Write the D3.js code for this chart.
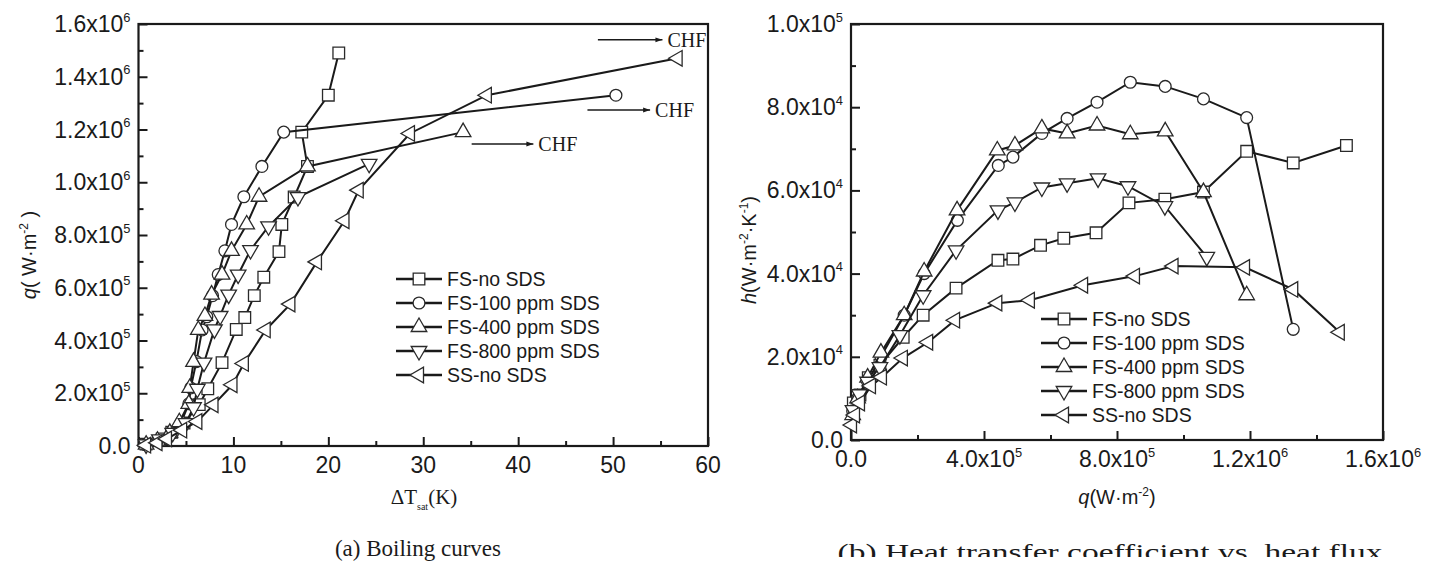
<!DOCTYPE html>
<html>
<head>
<meta charset="utf-8">
<script src="https://cdn.jsdelivr.net/npm/d3@7/dist/d3.min.js"></script>
<style>
  body { margin: 0; background: #fff; }
  svg text { font-family: Arial, "Liberation Sans", sans-serif; fill: #1a1a1a; }
  svg .serif { font-family: "Times New Roman", "Liberation Serif", serif; }
</style>
</head>
<body>
<svg id="chart" width="1434" height="567"></svg>
<script>
const seriesNames = ["FS-no SDS", "FS-100 ppm SDS", "FS-400 ppm SDS", "FS-800 ppm SDS", "SS-no SDS"];
const markerKinds = ["square", "circle", "up", "down", "left"];

// (a) boiling curves: wall superheat (K) vs heat flux (x10^5 W/m2)
const dtFsNo  = [0.8, 2.5, 3.5, 4.8, 6.4, 7.3, 8.8, 10.3, 11.2, 12.2, 13.2, 14.8, 15.1, 16.4, 17.8, 17.2, 20.0, 21.1];
const qFsNo   = [0.07, 0.27, 0.52, 0.87, 1.57, 2.17, 3.16, 4.42, 4.87, 5.7, 6.4, 7.37, 8.4, 9.44, 10.6, 11.9, 13.3, 14.9];
const dtFs100 = [0.7, 2.0, 3.6, 4.5, 5.3, 5.5, 6.1, 6.7, 7.2, 7.8, 8.4, 9.1, 9.8, 11.1, 13.0, 15.3, 50.3];
const qFs100  = [0.05, 0.2, 0.5, 0.9, 1.6, 2.2, 3.2, 4.4, 4.9, 5.7, 6.5, 7.4, 8.4, 9.45, 10.6, 11.9, 13.3];
const dtFs400 = [0.8, 2.0, 3.3, 4.3, 5.3, 5.4, 5.8, 6.3, 7.0, 7.7, 8.8, 9.8, 11.4, 12.7, 17.8, 34.2];
const qFs400  = [0.05, 0.2, 0.5, 0.9, 1.6, 2.2, 3.19, 4.4, 4.93, 5.74, 6.5, 7.4, 8.4, 9.45, 10.6, 11.9];
const dtFs800 = [0.8, 2.2, 3.6, 5.0, 5.8, 6.2, 6.9, 8.0, 8.6, 9.5, 10.5, 11.8, 13.7, 16.8, 24.3];
const qFs800  = [0.06, 0.25, 0.5, 0.87, 1.47, 2.17, 3.16, 4.42, 4.93, 5.74, 6.5, 7.43, 8.33, 9.44, 10.7];
const dtSsNo  = [0.8, 2.0, 3.0, 4.6, 6.2, 7.9, 9.9, 11.1, 13.4, 16.0, 18.8, 21.7, 23.2, 28.6, 36.7, 56.8];
const qSsNo   = [0.03, 0.12, 0.27, 0.6, 0.93, 1.56, 2.32, 3.13, 4.4, 5.38, 6.98, 8.54, 9.7, 11.85, 13.3, 14.7];

// (b) heat transfer coefficient (x10^3 W/m2K) vs heat flux (x10^5 W/m2)
const hqFsNo  = [0.07, 0.27, 0.52, 0.87, 1.57, 2.17, 3.16, 4.42, 4.87, 5.7, 6.4, 7.37, 8.36, 9.44, 10.6, 11.9, 13.3, 14.9];
const hFsNo   = [8.9, 10.8, 15, 18, 24.7, 30, 36.5, 43.2, 43.5, 46.8, 48.5, 49.8, 57, 57.9, 59.6, 69.4, 66.6, 70.8];
const hqFs100 = [0.05, 0.2, 0.5, 0.9, 1.6, 2.2, 3.2, 4.43, 4.87, 5.74, 6.5, 7.4, 8.4, 9.45, 10.6, 11.9, 13.3];
const hFs100  = [7, 10, 14, 20, 30, 40, 52.8, 66, 68, 73.7, 77.3, 81.2, 86, 85, 82, 77.5, 26.6];
const hqFs400 = [0.05, 0.2, 0.5, 0.9, 1.6, 2.2, 3.19, 4.4, 4.93, 5.74, 6.5, 7.4, 8.4, 9.45, 10.6, 11.9];
const hFs400  = [6, 10, 15, 21, 30, 40.5, 55.2, 69.6, 70.8, 74.9, 73.7, 75.6, 73.5, 74.2, 59.6, 34.8];
const hqFs800 = [0.06, 0.25, 0.5, 0.87, 1.47, 2.17, 3.16, 4.42, 4.93, 5.74, 6.5, 7.43, 8.33, 9.44, 10.7];
const hFs800  = [7.2, 11, 14, 17.5, 25.2, 34.8, 45.6, 55.2, 57.1, 60.7, 61.7, 62.9, 61, 56.2, 44];
const hqSsNo  = [0.03, 0.12, 0.27, 0.6, 0.93, 1.56, 2.32, 3.13, 4.4, 5.38, 6.98, 8.54, 9.7, 11.85, 13.3, 14.7];
const hSsNo   = [3.6, 6, 8.9, 13, 15.1, 19.7, 23.5, 28.8, 32.9, 33.6, 37.2, 39.4, 41.8, 41.5, 36.2, 25.9];

// tick values and their printed labels [mantissa, exponent]
const aXTicks = [0, 10, 20, 30, 40, 50, 60];
const aYTicks = [0, 2, 4, 6, 8, 10, 12, 14, 16];
const aYLabels = [["0.0", ""], ["2.0x10", "5"], ["4.0x10", "5"], ["6.0x10", "5"], ["8.0x10", "5"],
                  ["1.0x10", "6"], ["1.2x10", "6"], ["1.4x10", "6"], ["1.6x10", "6"]];
const bXTicks = [0, 4, 8, 12, 16];
const bXLabels = [["0.0", ""], ["4.0x10", "5"], ["8.0x10", "5"], ["1.2x10", "6"], ["1.6x10", "6"]];
const bYTicks = [0, 20, 40, 60, 80, 100];
const bYLabels = [["0.0", ""], ["2.0x10", "4"], ["4.0x10", "4"], ["6.0x10", "4"], ["8.0x10", "4"], ["1.0x10", "5"]];

// CHF arrows on (a): [x from, x to, q level]
const chfArrows = [[48.4, 55.2, 15.4], [47.3, 53.9, 12.74], [35.1, 41.6, 11.45]];

const svg = d3.select("#chart");
svg.append("defs").append("marker")
    .attr("id", "arrow").attr("viewBox", "0 0 10 10").attr("refX", 10).attr("refY", 5)
    .attr("markerWidth", 9).attr("markerHeight", 7).attr("markerUnits", "userSpaceOnUse")
    .attr("orient", "auto")
  .append("path").attr("d", "M0,1.5L10,5L0,8.5Z").attr("fill", "#1a1a1a");

const symSize = { square: 135, circle: 110, up: 105, down: 105, left: 105 };
const symRot = { square: 0, circle: 0, up: 0, down: 180, left: -90 };
function symbolPath(kind) {
    const t = kind === "square" ? d3.symbolSquare : kind === "circle" ? d3.symbolCircle : d3.symbolTriangle;
    return d3.symbol().type(t).size(symSize[kind])();
}
function drawMarker(g, kind, cx, cy) {
    g.append("path")
        .attr("d", symbolPath(kind))
        .attr("transform", "translate(" + cx + "," + cy + ") rotate(" + symRot[kind] + ")")
        .attr("fill", "#fff").attr("stroke", "#2a2a2a").attr("stroke-width", 1.3);
}

function tickText(g, lab, x, y, anchor, size) {
    const t = g.append("text").attr("x", x).attr("y", y).attr("text-anchor", anchor)
        .style("font-size", size + "px");
    t.append("tspan").text(lab[0]);
    if (lab[1]) t.append("tspan").attr("dy", -size * 0.45).style("font-size", (size * 0.56) + "px").text(lab[1]);
}

function panel(p) {
    const g = svg.append("g");
    const x = d3.scaleLinear().domain(p.xDomain).range([p.left, p.right]);
    const y = d3.scaleLinear().domain(p.yDomain).range([p.bottom, p.top]);

    // inward ticks, major + minor
    const axes = [
        [d3.axisBottom(x).tickValues(p.xMinor).tickSize(-5), p.bottom, "x"],
        [d3.axisBottom(x).tickValues(p.xTicks).tickSize(-9), p.bottom, "x"],
        [d3.axisLeft(y).tickValues(p.yMinor).tickSize(-5), p.left, "y"],
        [d3.axisLeft(y).tickValues(p.yTicks).tickSize(-9), p.left, "y"]
    ];
    axes.forEach(([ax, pos, dir]) => {
        const a = g.append("g")
            .attr("transform", dir === "x" ? "translate(0," + pos + ")" : "translate(" + pos + ",0)")
            .call(ax.tickFormat(""));
        a.select(".domain").remove();
        a.selectAll("line").attr("stroke", "#1a1a1a").attr("stroke-width", 2);
    });
    g.append("rect")
        .attr("x", p.left).attr("y", p.top)
        .attr("width", p.right - p.left).attr("height", p.bottom - p.top)
        .attr("fill", "none").attr("stroke", "#1a1a1a").attr("stroke-width", 2.2);

    p.xTicks.forEach((v, i) => tickText(g, p.xLabels[i], x(v), p.bottom + 27, "middle", 23));
    p.yTicks.forEach((v, i) => tickText(g, p.yLabels[i], p.left - 8, y(v) + 8, "end", 23));

    const line = d3.line().x(d => x(d[0])).y(d => y(d[1]));
    p.series.forEach((s, k) => {
        const pts = s[0].map((v, i) => [v, s[1][i]]);
        g.append("path").attr("d", line(pts))
            .attr("fill", "none").attr("stroke", "#1a1a1a").attr("stroke-width", 2);
        pts.forEach(d => drawMarker(g, markerKinds[k], x(d[0]), y(d[1])));
    });

    // legend
    seriesNames.forEach((name, k) => {
        const ry = p.legY + k * 24;
        g.append("line").attr("x1", p.legX).attr("x2", p.legX + 46).attr("y1", ry).attr("y2", ry)
            .attr("stroke", "#1a1a1a").attr("stroke-width", 2.4);
        drawMarker(g, markerKinds[k], p.legX + 23, ry);
        g.append("text").attr("x", p.legX + 51).attr("y", ry + 7).style("font-size", "19.5px").text(name);
    });
    return { g, x, y };
}

// (a)
const a = panel({
    xDomain: [0, 60], yDomain: [0, 16],
    left: 138.5, right: 708, top: 24, bottom: 446,
    xTicks: aXTicks, xMinor: d3.range(5, 60, 10), xLabels: aXTicks.map(v => [String(v), ""]),
    yTicks: aYTicks, yMinor: d3.range(1, 16, 2), yLabels: aYLabels,
    series: [[dtFsNo, qFsNo], [dtFs100, qFs100], [dtFs400, qFs400], [dtFs800, qFs800], [dtSsNo, qSsNo]],
    legX: 396, legY: 279
});
chfArrows.forEach(c => {
    a.g.append("line").attr("x1", a.x(c[0])).attr("x2", a.x(c[1])).attr("y1", a.y(c[2])).attr("y2", a.y(c[2]))
        .attr("stroke", "#1a1a1a").attr("stroke-width", 1.5).attr("marker-end", "url(#arrow)");
    a.g.append("text").attr("class", "serif").attr("x", a.x(c[1]) + 5).attr("y", a.y(c[2]) + 7)
        .style("font-size", "20px").text("CHF");
});

// (b)
panel({
    xDomain: [0, 16], yDomain: [0, 100],
    left: 851, right: 1383, top: 24, bottom: 440,
    xTicks: bXTicks, xMinor: d3.range(2, 16, 4), xLabels: bXLabels,
    yTicks: bYTicks, yMinor: d3.range(10, 100, 20), yLabels: bYLabels,
    series: [[hqFsNo, hFsNo], [hqFs100, hFs100], [hqFs400, hFs400], [hqFs800, hFs800], [hqSsNo, hSsNo]],
    legX: 1041, legY: 319
});

// axis titles
const ta = svg.append("text").attr("transform", "translate(36,255) rotate(-90)")
    .attr("text-anchor", "middle").style("font-size", "20px");
ta.append("tspan").style("font-style", "italic").text("q");
ta.append("tspan").text("( W\u00b7m");
ta.append("tspan").attr("dy", -8).style("font-size", "12px").text("-2");
ta.append("tspan").attr("dy", 8).text(" )");

const tb = svg.append("text").attr("transform", "translate(756,250) rotate(-90)")
    .attr("text-anchor", "middle").style("font-size", "20px");
tb.append("tspan").style("font-style", "italic").text("h");
tb.append("tspan").text("(W\u00b7m");
tb.append("tspan").attr("dy", -8).style("font-size", "12px").text("-2");
tb.append("tspan").attr("dy", 8).text("\u00b7K");
tb.append("tspan").attr("dy", -8).style("font-size", "12px").text("-1");
tb.append("tspan").attr("dy", 8).text(")");

const xa = svg.append("text").attr("class", "serif").attr("x", 424).attr("y", 504)
    .attr("text-anchor", "middle").style("font-size", "21px");
xa.append("tspan").text("\u0394T");
xa.append("tspan").attr("dy", 6).style("font-size", "10px").text("sat");
xa.append("tspan").attr("dy", -6).text("(K)");

const xb = svg.append("text").attr("x", 1117).attr("y", 504)
    .attr("text-anchor", "middle").style("font-size", "20px");
xb.append("tspan").style("font-style", "italic").text("q");
xb.append("tspan").text("(W\u00b7m");
xb.append("tspan").attr("dy", -8).style("font-size", "12px").text("-2");
xb.append("tspan").attr("dy", 8).text(")");

// captions; the (b) caption is cut at the bottom edge in the source figure
svg.append("text").attr("class", "serif").attr("x", 418).attr("y", 556)
    .attr("text-anchor", "middle").style("font-size", "23px").text("(a)  Boiling curves");
svg.append("text").attr("class", "serif").attr("x", 1110).attr("y", 560)
    .attr("text-anchor", "middle").style("font-size", "24px")
    .attr("textLength", 545).attr("lengthAdjust", "spacingAndGlyphs")
    .text("(b)  Heat transfer coefficient vs. heat flux");
svg.append("rect").attr("x", 760).attr("y", 557).attr("width", 674).attr("height", 10).attr("fill", "#fff");
</script>
</body>
</html>
